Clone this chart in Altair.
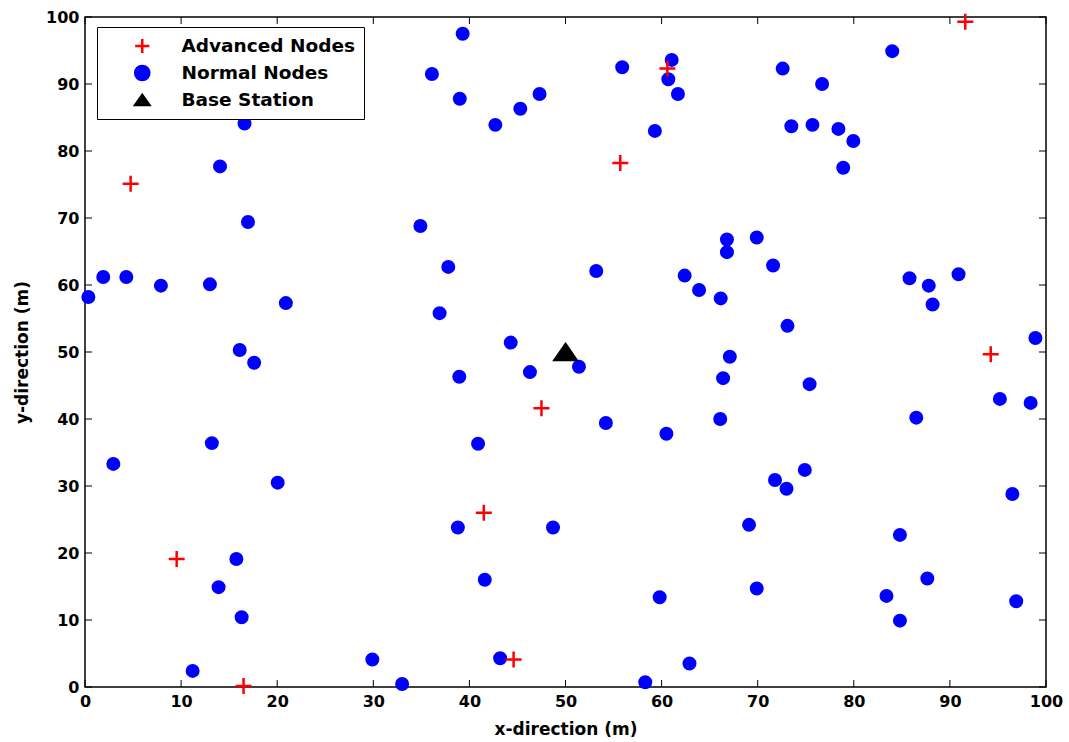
import altair as alt
import pandas as pd

# Sensor field layout (metres)
normal_x = [0.35, 1.9, 4.3, 7.9, 13.0, 14.05, 16.6, 16.96, 20.9, 16.1, 17.6, 13.2, 2.95,
            20.05, 15.75, 13.9, 16.3, 11.2, 29.9, 33.0,
            39.3, 36.1, 39.0, 42.7, 45.3, 47.3, 55.9, 61.05, 60.7, 61.7, 59.3, 34.9, 37.8,
            36.9, 44.3, 53.2, 66.8, 66.8, 62.4, 63.9, 66.15, 67.1, 38.95, 46.3, 51.4, 54.2,
            60.5, 66.1, 40.9, 38.8, 48.7, 41.6, 59.8, 43.2, 62.9, 58.3, 66.4,
            84.0, 72.6, 76.7, 73.5, 75.7, 78.4, 79.95, 78.9, 69.9, 71.6, 73.1, 85.8, 87.8,
            88.2, 90.9, 98.9, 75.4, 95.2, 98.4, 86.5, 74.9, 71.8, 73.0, 69.1, 84.8, 96.5,
            69.9, 87.65, 83.4, 84.8, 96.9]
normal_y = [58.2, 61.2, 61.2, 59.9, 60.1, 77.7, 84.1, 69.4, 57.3, 50.3, 48.4, 36.4, 33.3,
            30.5, 19.1, 14.9, 10.4, 2.4, 4.1, 0.45,
            97.5, 91.5, 87.8, 83.9, 86.3, 88.5, 92.5, 93.6, 90.7, 88.5, 83.0, 68.8, 62.7,
            55.8, 51.4, 62.1, 66.8, 64.9, 61.4, 59.25, 58.0, 49.3, 46.3, 47.0, 47.8, 39.4,
            37.8, 40.0, 36.3, 23.8, 23.8, 16.0, 13.4, 4.3, 3.5, 0.7, 46.1,
            94.9, 92.3, 90.0, 83.7, 83.9, 83.3, 81.5, 77.5, 67.1, 62.9, 53.9, 61.0, 59.9,
            57.1, 61.6, 52.1, 45.2, 43.0, 42.4, 40.2, 32.4, 30.9, 29.6, 24.2, 22.7, 28.8,
            14.7, 16.2, 13.6, 9.9, 12.8]

advanced_x = [4.75, 55.7, 60.6, 91.6, 94.25, 47.5, 41.5, 9.54, 44.6, 16.5]
advanced_y = [75.1, 78.2, 92.3, 99.3, 49.65, 41.6, 26.0, 19.1, 4.1, 0.15]

base_x = [50.0]
base_y = [50.0]

series_names = ["Advanced Nodes", "Normal Nodes", "Base Station"]
tick_values = list(range(0, 101, 10))

# marker area per series (square pixels) and drawing order
marker_area = {"Normal Nodes": 132, "Advanced Nodes": 256, "Base Station": 484}
draw_order = {"Normal Nodes": 0, "Advanced Nodes": 1, "Base Station": 2}

rows = (
    [{"x": x, "y": y, "type": "Normal Nodes"} for x, y in zip(normal_x, normal_y)]
    + [{"x": x, "y": y, "type": "Advanced Nodes"} for x, y in zip(advanced_x, advanced_y)]
    + [{"x": x, "y": y, "type": "Base Station"} for x, y in zip(base_x, base_y)]
)
nodes = pd.DataFrame(rows)
nodes["sz"] = nodes["type"].map(marker_area)
nodes["ord"] = nodes["type"].map(draw_order)
ticks = pd.DataFrame({"t": tick_values})

FONT = "DejaVu Sans"
W, H = 961, 670
TICK = 7

cross_path = "M-1,0H1M0,-1V1"
tri_path = "M0,-0.72L1,0.72L-1,0.72Z"

color_scale = alt.Scale(domain=series_names, range=["#ff0000", "#0000ff", "#000000"])
shape_scale = alt.Scale(domain=series_names, range=[cross_path, "circle", tri_path])

xs = alt.Scale(domain=[0, 100], nice=False, zero=False)
ys = alt.Scale(domain=[0, 100], nice=False, zero=False)

x_axis = alt.Axis(values=tick_values, ticks=False, domain=False, grid=False,
                  labelFlush=False, labelPadding=6, titlePadding=12)
y_axis = alt.Axis(values=tick_values, ticks=False, domain=False, grid=False,
                  labelFlush=False, labelPadding=6, titlePadding=14)

legend = alt.Legend(
    title=None,
    orient="none",
    legendX=12,
    legendY=10,
    direction="vertical",
    padding=9,
    strokeColor="black",
    fillColor="white",
    symbolOffset=27,
    labelOffset=30,
    labelLimit=400,
    labelFont=FONT,
    labelFontSize=18.5,
    labelFontWeight="bold",
    labelColor="black",
    clipHeight=20,
    rowPadding=7,
    symbolSize=200,
    symbolStrokeWidth=2.5,
    cornerRadius=0,
)

points = alt.Chart(nodes).mark_point(filled=True, strokeWidth=2.5, opacity=1).encode(
    x=alt.X("x:Q", scale=xs, title="x-direction (m)", axis=x_axis),
    y=alt.Y("y:Q", scale=ys, title="y-direction (m)", axis=y_axis),
    color=alt.Color("type:N", scale=color_scale, legend=legend, sort=series_names),
    stroke=alt.Stroke("type:N", scale=color_scale, legend=legend, sort=series_names),
    shape=alt.Shape("type:N", scale=shape_scale, legend=legend, sort=series_names),
    size=alt.Size("sz:Q", scale=None, legend=None),
    order=alt.Order("ord:Q"),
)

# inward tick marks on all four sides of the box
base_ticks = alt.Chart(ticks).mark_rule(color="black", strokeWidth=1)
bottom_ticks = base_ticks.encode(x=alt.X("t:Q", scale=xs, title="x-direction (m)", axis=x_axis),
                                 y=alt.value(H), y2=alt.value(H - TICK))
top_ticks = base_ticks.encode(x=alt.X("t:Q", scale=xs, title="x-direction (m)", axis=x_axis),
                              y=alt.value(0), y2=alt.value(TICK))
left_ticks = base_ticks.encode(y=alt.Y("t:Q", scale=ys, title="y-direction (m)", axis=y_axis),
                               x=alt.value(0), x2=alt.value(TICK))
right_ticks = base_ticks.encode(y=alt.Y("t:Q", scale=ys, title="y-direction (m)", axis=y_axis),
                                x=alt.value(W), x2=alt.value(W - TICK))

chart = alt.layer(
    points, bottom_ticks, top_ticks, left_ticks, right_ticks
).properties(
    width=W,
    height=H,
    autosize=alt.AutoSizeParams(type="none"),
    padding={"left": 85, "top": 17, "right": 23, "bottom": 55},
    background="white",
).configure_view(
    stroke="black", strokeWidth=1.5
).configure_axis(
    labelFont=FONT, labelFontSize=16, labelFontWeight="bold", labelColor="black",
    titleFont=FONT, titleFontSize=17, titleFontWeight="bold", titleColor="black",
)

chart.save("out.html", embed_options={"renderer": "svg", "actions": False})
